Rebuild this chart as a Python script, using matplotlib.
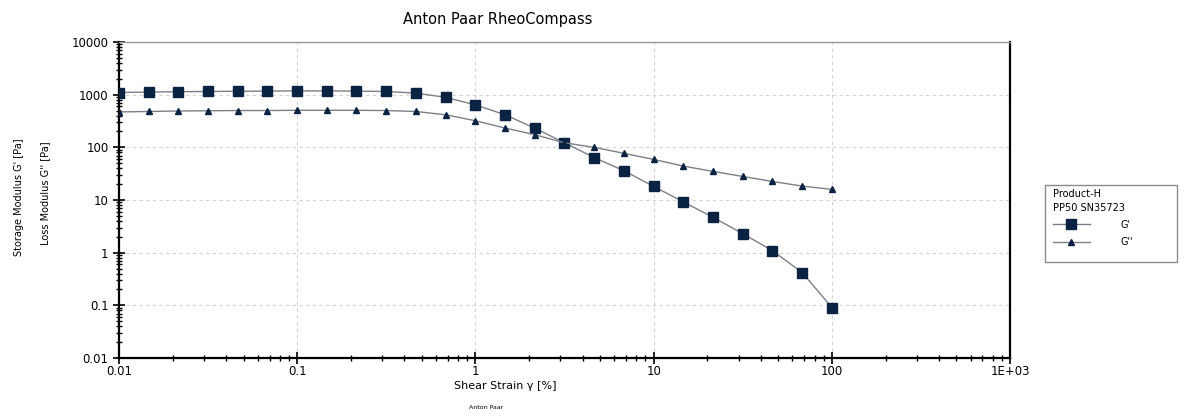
import numpy as np
import matplotlib.pyplot as plt
from matplotlib.patches import Rectangle
from matplotlib.ticker import FixedLocator, FixedFormatter, LogLocator, NullFormatter

# shear strain points, 6 per decade
strain = [0.01, 0.0147, 0.0215, 0.0316, 0.0464, 0.0681, 0.1, 0.147, 0.215, 0.316, 0.464, 0.681,
          1.0, 1.47, 2.15, 3.16, 4.64, 6.81, 10.0, 14.7, 21.5, 31.6, 46.4, 68.1, 100.0]
g_storage = [1100, 1120, 1140, 1150, 1160, 1170, 1180, 1180, 1170, 1150, 1070, 890,
             640, 415, 232, 122, 64, 36, 18.1, 9.2, 4.7, 2.3, 1.09, 0.42, 0.091]
g_loss = [470, 480, 490, 495, 500, 500, 505, 505, 505, 500, 480, 415,
          320, 232, 174, 122, 100, 77, 59, 44, 35, 28, 22.5, 18.4, 15.9]

x_ticks = [0.01, 0.1, 1, 10, 100, 1000]
x_labels = ["0.01", "0.1", "1", "10", "100", "1E+03"]
y_ticks = [0.01, 0.1, 1, 10, 100, 1000, 10000]
y_labels = ["0.01", "0.1", "1", "10", "100", "1000", "10000"]

navy = "#0b2342"
line_c = "#7a8088"

fig = plt.figure(figsize=(11.85, 4.16), dpi=100)
ax = fig.add_axes([0.1004, 0.1394, 0.752, 0.7596])

ax.plot(strain, g_storage, color=line_c, lw=1.0, marker="s", ms=7.5,
        mfc=navy, mec=navy, label="G'", zorder=3)
ax.plot(strain, g_loss, color=line_c, lw=1.0, marker="^", ms=5,
        mfc=navy, mec=navy, label="G''", zorder=3)

ax.set_xscale("log")
ax.set_yscale("log")
ax.set_xlim(0.01, 1000)
ax.set_ylim(0.01, 10000)

ax.xaxis.set_major_locator(FixedLocator(x_ticks))
ax.xaxis.set_major_formatter(FixedFormatter(x_labels))
ax.yaxis.set_major_locator(FixedLocator(y_ticks))
ax.yaxis.set_major_formatter(FixedFormatter(y_labels))
ax.xaxis.set_minor_locator(LogLocator(base=10, subs=np.arange(2, 10), numticks=20))
ax.yaxis.set_minor_locator(LogLocator(base=10, subs=np.arange(2, 10), numticks=20))
ax.xaxis.set_minor_formatter(NullFormatter())
ax.yaxis.set_minor_formatter(NullFormatter())

ax.tick_params(which="major", direction="inout", length=8, width=1.2,
               labelsize=8.5, colors="black")
ax.tick_params(which="minor", direction="inout", length=4, width=1.0)
ax.tick_params(axis="x", pad=1)

ax.grid(True, which="major", color="#d2d2d2", ls=(0, (3, 3)), lw=0.8)

for s in ["left", "bottom", "right"]:
    ax.spines[s].set_color("black")
    ax.spines[s].set_linewidth(1.6)
ax.spines["top"].set_color("#999999")
ax.spines["top"].set_linewidth(1.0)

fig.text(0.42, 0.953, "Anton Paar RheoCompass", ha="center", va="center", fontsize=10.5)
fig.text(0.426, 0.072, "Shear Strain \u03b3 [%]", ha="center", va="center", fontsize=8)
fig.text(0.41, 0.02, "Anton Paar", ha="center", va="center", fontsize=4.5)
fig.text(0.016, 0.525, "Storage Modulus G' [Pa]", rotation=90, ha="center", va="center", fontsize=7)
fig.text(0.038, 0.535, "Loss Modulus G'' [Pa]", rotation=90, ha="center", va="center", fontsize=7)

# legend without its own frame, box drawn separately
leg = ax.legend(loc="upper left", bbox_to_anchor=(1053 / 1185, 1 - 189 / 416),
                bbox_transform=fig.transFigure,
                title="Product-H\nPP50 SN35723", title_fontsize=7, fontsize=7,
                frameon=False, borderpad=0.0, borderaxespad=0.0,
                handlelength=3.8, handletextpad=3.1, labelspacing=0.75,
                alignment="left")
leg.get_title().set_linespacing(1.45)
fig.patches.append(Rectangle((1045 / 1185, 1 - 262 / 416), 132 / 1185, 77 / 416,
                             transform=fig.transFigure, fill=False,
                             edgecolor="#8a8a8a", lw=1.0))

fig.savefig("out.png", dpi=100)
